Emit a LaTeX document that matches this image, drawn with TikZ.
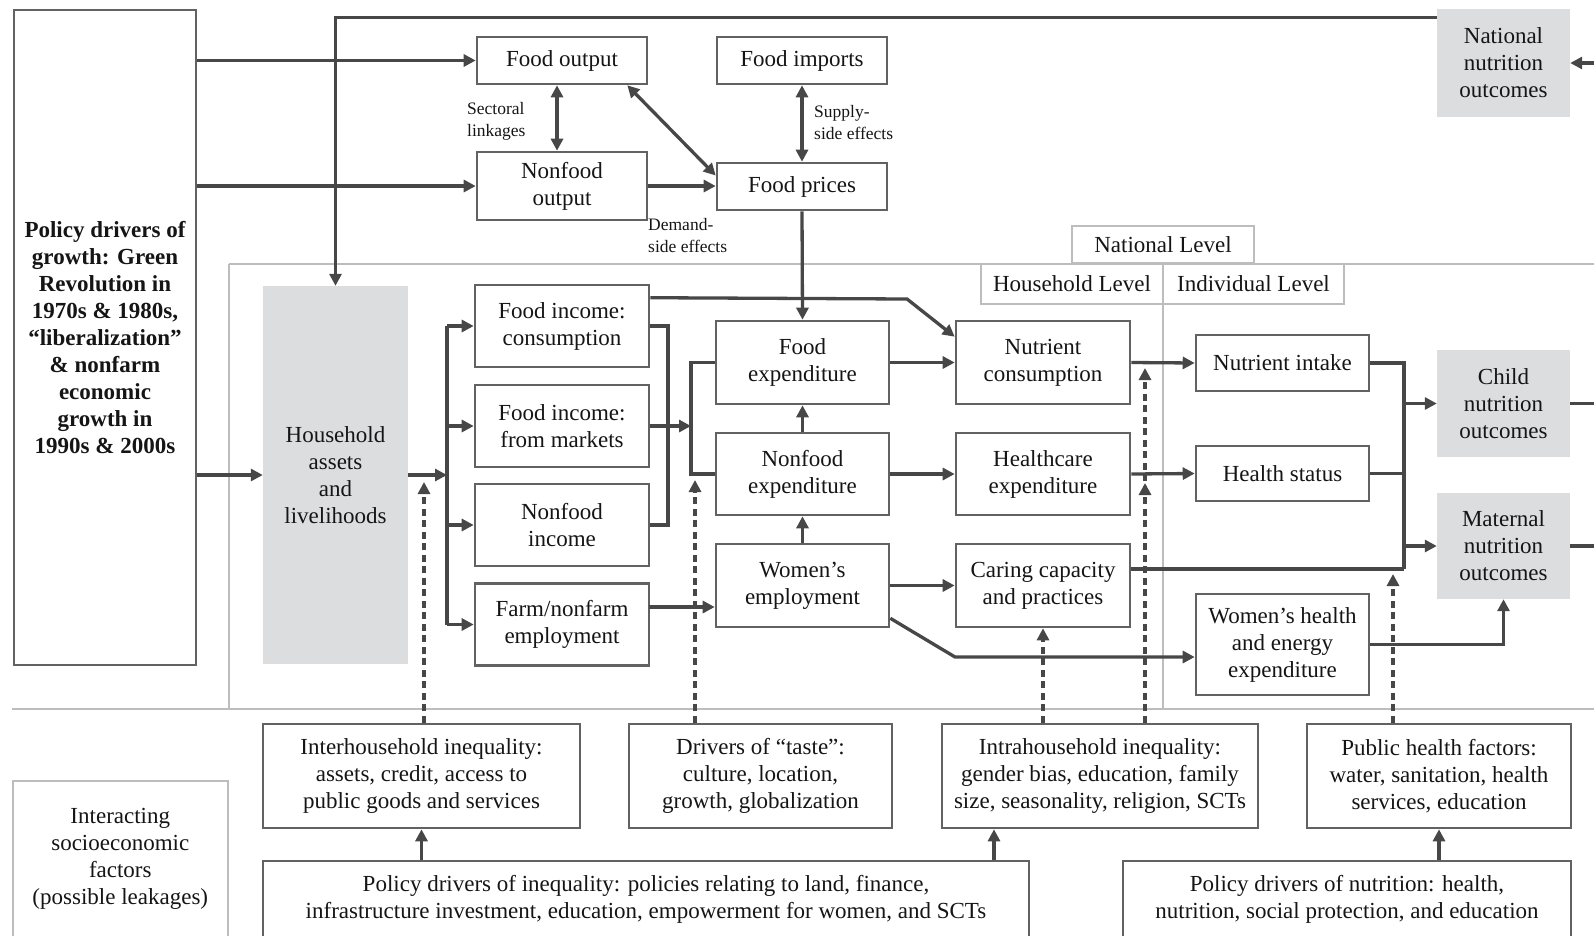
\documentclass[tikz,border=0pt]{standalone}
\usepackage{fontspec}
\setmainfont{Liberation Serif}
\usetikzlibrary{arrows.meta,calc}
\definecolor{lncol}{HTML}{474747}
\definecolor{bxcol}{HTML}{626262}
\definecolor{gfill}{HTML}{DCDDDF}
\definecolor{lgcol}{HTML}{BDBDBD}
\definecolor{txcol}{HTML}{151515}
\begin{document}
\begin{tikzpicture}[x=1pt,y=-1pt,
  every node/.style={text=txcol, font=\fontsize{23}{27}\selectfont},
  box/.style={draw=bxcol, line width=2.6pt, fill=white, inner sep=0pt, align=center},
  gbox/.style={fill=gfill, inner sep=0pt, align=center},
  lbox/.style={draw=lgcol, line width=2pt, fill=white, inner sep=0pt, align=center},
  small/.style={inner sep=0pt, align=left, font=\fontsize{17.5}{21.5}\selectfont},
  conn/.style={draw=lncol, line width=3.3pt},
  arr/.style={conn, -{Triangle[length=12pt,width=12pt]}},
  darr/.style={conn, {Triangle[length=12pt,width=12pt]}-{Triangle[length=12pt,width=12pt]}},
  dsh/.style={arr, dash pattern=on 7pt off 4.5pt},
  frameline/.style={draw=lgcol, line width=2pt},
]
\useasboundingbox (0,0) rectangle (1594,935);
% level frame
\draw[frameline] (229,264) -- (1594,264);
\draw[frameline] (229,264) -- (229,709);
\draw[frameline] (12,709) -- (1594,709);
\draw[frameline] (1163,264) -- (1163,709);

% nodes
\node[box, minimum width=182pt, minimum height=655pt] (growth) at (105,337.5) {\bfseries Policy drivers of\\\bfseries growth: Green\\\bfseries Revolution in\\\bfseries 1970s \& 1980s,\\\bfseries “liberalization”\\\bfseries \& nonfarm\\\bfseries economic\\\bfseries growth in\\\bfseries 1990s \& 2000s};
\node[box, minimum width=170pt, minimum height=47pt] (foodout) at (562,60.5) {Food output};
\node[box, minimum width=170pt, minimum height=47pt] (foodimp) at (802,60.5) {Food imports};
\node[box, minimum width=170pt, minimum height=68pt] (nonfoodout) at (562,186) {Nonfood\\output};
\node[box, minimum width=170pt, minimum height=47pt] (foodprices) at (802,186.5) {Food prices};
\node[gbox, minimum width=133pt, minimum height=108pt] (natout) at (1503.5,63) {National\\nutrition\\outcomes};
\node[lbox, minimum width=182pt, minimum height=37pt] (natlevel) at (1163,244.5) {National Level};
\node[lbox, minimum width=182pt, minimum height=40pt] (hhlevel) at (1072,284) {Household Level};
\node[lbox, minimum width=181pt, minimum height=40pt] (indlevel) at (1253.5,284) {Individual Level};
\node[gbox, minimum width=145pt, minimum height=378pt] (assets) at (335.5,475) {Household\\assets\\and\\livelihoods};
\node[box, minimum width=174pt, minimum height=82pt] (fic) at (562,326) {Food income:\\consumption};
\node[box, minimum width=174pt, minimum height=82pt] (fim) at (562,426) {Food income:\\from markets};
\node[box, minimum width=174pt, minimum height=82pt] (nfi) at (562,525) {Nonfood\\income};
\node[box, minimum width=174pt, minimum height=82pt] (farm) at (562,624.5) {Farm/nonfarm\\employment};
\node[box, minimum width=173pt, minimum height=83pt] (fexp) at (802.5,362.5) {Food\\expenditure};
\node[box, minimum width=173pt, minimum height=82pt] (nfexp) at (802.5,474) {Nonfood\\expenditure};
\node[box, minimum width=173pt, minimum height=83pt] (wemp) at (802.5,585.5) {Women’s\\employment};
\node[box, minimum width=174pt, minimum height=83pt] (ncons) at (1043,362.5) {Nutrient\\consumption};
\node[box, minimum width=174pt, minimum height=82pt] (hcexp) at (1043,474) {Healthcare\\expenditure};
\node[box, minimum width=174pt, minimum height=83pt] (caring) at (1043,585.5) {Caring capacity\\and practices};
\node[box, minimum width=173pt, minimum height=56pt] (nintake) at (1282.5,363) {Nutrient intake};
\node[box, minimum width=173pt, minimum height=55pt] (hstatus) at (1282.5,473.5) {Health status};
\node[box, minimum width=173pt, minimum height=101pt] (whealth) at (1282.5,644.5) {Women’s health\\and energy\\expenditure};
\node[gbox, minimum width=133pt, minimum height=107pt] (child) at (1503.5,403.5) {Child\\nutrition\\outcomes};
\node[gbox, minimum width=133pt, minimum height=106pt] (maternal) at (1503.5,546) {Maternal\\nutrition\\outcomes};
\node[box, minimum width=317pt, minimum height=104pt] (inter) at (421.5,776) {Interhousehold inequality:\\assets, credit, access to\\public goods and services};
\node[box, minimum width=263pt, minimum height=104pt] (taste) at (760.5,776) {Drivers of “taste”:\\culture, location,\\growth, globalization};
\node[box, minimum width=316pt, minimum height=104pt] (intra) at (1100,776) {Intrahousehold inequality:\\gender bias, education, family\\size, seasonality, religion, SCTs};
\node[box, minimum width=264pt, minimum height=104pt] (pubhealth) at (1439,776) {Public health factors:\\water, sanitation, health\\services, education};
\node[lbox, minimum width=215.4pt, minimum height=156pt] (socio) at (120.3,859) {Interacting\\socioeconomic\\factors\\(possible leakages)};
\node[box, minimum width=766pt, minimum height=76pt] (polineq) at (646,899) {Policy drivers of inequality: policies relating to land, finance,\\infrastructure investment, education, empowerment for women, and SCTs};
\node[box, minimum width=448pt, minimum height=76pt] (polnut) at (1347,899) {Policy drivers of nutrition: health,\\nutrition, social protection, and education};

% small labels
\node[small, anchor=west] (sectoral) at (467,121.5) {Sectoral\\linkages};
\node[small, anchor=west] (supply) at (814,122.5) {Supply-\\side effects};
\node[small, anchor=west] (demand) at (648,235.5) {Demand-\\side effects};

% coordinates
\coordinate (b1) at (447,475);
\coordinate (b2) at (668,426);
\coordinate (b3) at (691,426);
\coordinate (b4) at (1404,569);
\coordinate (natin) at (1594,63);
\coordinate (childout) at (1594,403.5);
\coordinate (matout) at (1594,546);
\coordinate (bend1) at (907,299);
\coordinate (bend2) at (955,657);
\coordinate (fw) at (649,607);
\coordinate (d1) at (424,482);
\coordinate (d2) at (695,480);
\coordinate (d3) at (1145,483);
\coordinate (d4) at (1145,368);
\coordinate (d5) at (1393,574);
\coordinate (d6) at (994,0);

% connectors, upper part
\draw[arr] (growth.east |- foodout.west) -- (foodout.west);
\draw[arr] (growth.east |- nonfoodout.west) -- (nonfoodout.west);
\draw[arr] (growth.east |- assets.west) -- (assets.west);
\draw[arr] ($(natout.north west)+(0,9)$) -| (assets.north);
\draw[arr] (natin) -- (natout.east);
\draw[darr] ([xshift=-5pt]foodout.south) -- ([xshift=-5pt]nonfoodout.north);
\draw[darr] ($(foodout.south east)+(-21,0)$) -- ($(foodprices.west)+(0,-11)$);
\draw[arr] (nonfoodout.east) -- (nonfoodout.east -| foodprices.west);
\draw[darr] (foodimp.south) -- (foodprices.north);
\draw[arr] (foodprices.south) -- (fexp.north);

% household level
\draw[arr] (assets.east) -- (b1);
\draw[conn] (b1 |- fic.west) -- (b1 |- farm.west);
\foreach \n in {fic,fim,nfi,farm} \draw[arr] (b1 |- \n.west) -- (\n.west);
\draw[conn] (fic.east) -- (fic.east -| b2) -- (nfi.east -| b2) -- (nfi.east);
\draw[arr] (fim.east) -- (fim.east -| b3);
\draw[conn] (fexp.west) -- (fexp.west -| b3) -- (nfexp.west -| b3) -- (nfexp.west);
\draw[arr] ($(fic.north east)+(0,14)$) -- (bend1) -- ($(ncons.north west)+(0,17)$);
\draw[arr] (fw) -- (fw -| wemp.west);
\draw[arr] (nfexp.north) -- (fexp.south);
\draw[arr] (wemp.north) -- (nfexp.south);
\draw[arr] (fexp.east) -- (ncons.west);
\draw[arr] (nfexp.east) -- (hcexp.west);
\draw[arr] (wemp.east) -- (caring.west);
\draw[arr] ($(wemp.south east)+(0,-10)$) -- (bend2) -- (bend2 -| whealth.west);

% individual level
\draw[arr] (ncons.east) -- (nintake.west);
\draw[arr] (hcexp.east) -- (hstatus.west);
\draw[conn] (nintake.east) -| (b4);
\draw[conn] (hstatus.east) -- (hstatus.east -| b4);
\draw[conn] (caring.east |- b4) -- (b4);
\draw[arr] (b4 |- child.west) -- (child.west);
\draw[arr] (b4 |- maternal.west) -- (maternal.west);
\draw[arr] (whealth.east) -| (maternal.south);
\draw[conn] (child.east) -- (childout);
\draw[conn] (maternal.east) -- (matout);

% dashed influences
\draw[dsh] (inter.north -| d1) -- (d1);
\draw[dsh] (taste.north -| d2) -- (d2);
\draw[dsh] (intra.north -| caring.south) -- (caring.south);
\draw[dsh] (intra.north -| d3) -- (d4);
\draw[dsh] (intra.north -| d3) -- (d3);
\draw[dsh] (pubhealth.north -| d5) -- (d5);

% policy arrows
\draw[arr] (polineq.north -| inter.south) -- (inter.south);
\draw[arr] (polineq.north -| d6) -- (intra.south -| d6);
\draw[arr] (polnut.north -| pubhealth.south) -- (pubhealth.south);
\end{tikzpicture}
\end{document}
